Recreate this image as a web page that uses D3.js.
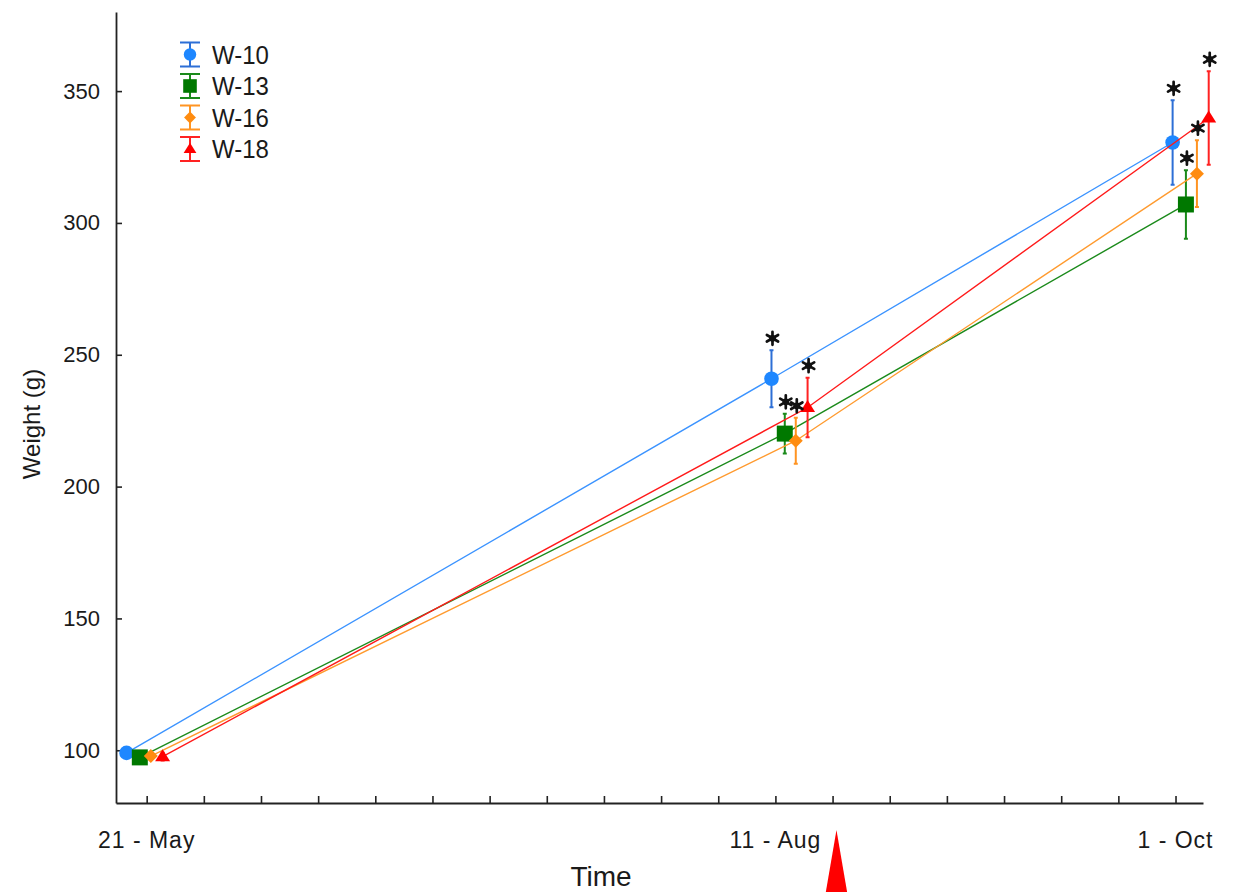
<!DOCTYPE html>
<html><head><meta charset="utf-8">
<script src="https://cdn.jsdelivr.net/npm/d3@7"></script>
<style>
body{margin:0;background:#fff}
svg{display:block}
text{font-family:"Liberation Sans",Arial,sans-serif;fill:#1a1a1a}
</style>
</head><body>
<svg id="chart" width="1241" height="892"></svg>
<script>
// ---------- data ----------
const seriesNames = ["W-10", "W-13", "W-16", "W-18"];
const sampleDay = [0, 82, 133];            // days since 21 May
const w10 = [99.0, 240.9, 330.5];
const w13 = [97.3, 220.1, 307.0];
const w16 = [97.8, 217.4, 318.7];
const w18 = [97.6, 230.0, 339.8];
const w10Err = [1.5, 10.8, 16.0];
const w13Err = [1.5, 7.5, 13.0];
const w16Err = [1.5, 8.7, 12.7];
const w18Err = [1.5, 11.3, 17.7];
const significant = [false, true, true];
const yTicks = [100, 150, 200, 250, 300, 350];
const xTickLabels = ["21 - May", "11 - Aug", "1 - Oct"];
const xLabelTickIndex = [0, 11, 18];
const minorTickCount = 19;
const firstTickDay = 0.3, tickStepDays = 7.267;
const arrowDay = 88;

// ---------- styles ----------
const lineColors = ["#3b93ff", "#1b8a1b", "#ff9a2e", "#ff1a1a"];
const markerColors = ["#1e87ff", "#007800", "#ff8c10", "#ff0000"];
const barColors = ["#2d6fd6", "#1a8a1a", "#ff9422", "#ff2222"];
const shapes = ["circle", "square", "diamond", "triangle"];
const dodge = [-17.8, -4.5, 6.5, 18.3];

const values = [w10, w13, w16, w18];
const errs = [w10Err, w13Err, w16Err, w18Err];

const svg = d3.select("#chart");
const x = d3.scaleLinear().domain([-3.6, 134.6]).range([116, 1203]);
const y = d3.scaleLinear().domain([80, 380]).range([803, 12]);

// axes
const minorTicks = d3.range(minorTickCount).map(i => firstTickDay + i * tickStepDays);
const xAxis = svg.append("g").attr("transform", "translate(0,803)")
  .call(d3.axisBottom(x).tickValues(minorTicks).tickSize(-7).tickSizeOuter(0).tickFormat(""));
const yAxis = svg.append("g").attr("transform", "translate(116,0)")
  .call(d3.axisLeft(y).tickValues(yTicks).tickSize(-6).tickSizeOuter(0).tickPadding(16).tickFormat(d3.format("d")));
[xAxis, yAxis].forEach(g => {
  g.select(".domain").attr("stroke", "#222").attr("stroke-width", 1.8);
  g.selectAll(".tick line").attr("stroke", "#222").attr("stroke-width", 1.6);
});
yAxis.selectAll(".tick text").attr("font-size", 22).attr("fill", "#222")
  .attr("transform", "scale(1,1.06)")
  .style("font-family", '"Liberation Sans", Arial, sans-serif');
yAxis.selectAll(".tick text").attr("transform", null);

svg.append("g").selectAll("text").data(xTickLabels).join("text")
  .attr("x", (d, i) => x(minorTicks[xLabelTickIndex[i]]))
  .attr("y", 848).attr("text-anchor", "middle").attr("font-size", 23)
  .attr("letter-spacing", 1).text(d => d);

svg.append("text").attr("x", 601).attr("y", 886).attr("text-anchor", "middle")
  .attr("font-size", 28).text("Time");
svg.append("text").attr("transform", "translate(40,424) rotate(-90)")
  .attr("text-anchor", "middle").attr("font-size", 24).text("Weight (g)");

// arrow annotation
const ax = x(arrowDay);
svg.append("path").attr("d", `M${ax},830 L${ax - 12},900 L${ax + 12},900 Z`).attr("fill", "#ff0000");

// marker helper
function marker(g, shape, cx, cy, color, s) {
  s = s || 1;
  let p;
  if (shape === "circle") {
    g.append("circle").attr("cx", cx).attr("cy", cy).attr("r", 7.3 * s).attr("fill", color);
    return;
  } else if (shape === "square") {
    const h = 8 * s;
    p = `M${cx - h},${cy - h}H${cx + h}V${cy + h}H${cx - h}Z`;
  } else if (shape === "diamond") {
    const h = 7 * s;
    p = `M${cx},${cy - h}L${cx + h},${cy}L${cx},${cy + h}L${cx - h},${cy}Z`;
  } else {
    const w = 7.5 * s, h = 12 * s;
    p = `M${cx},${cy - h * 0.62}L${cx + w},${cy + h * 0.38}L${cx - w},${cy + h * 0.38}Z`;
  }
  g.append("path").attr("d", p).attr("fill", color);
}

function star(g, cx, cy) {
  const r = 6.5;
  let d = "";
  [90, 30, 150].forEach(a => {
    const t = a * Math.PI / 180;
    d += `M${cx - r * Math.cos(t)},${cy - r * Math.sin(t)}L${cx + r * Math.cos(t)},${cy + r * Math.sin(t)}`;
  });
  g.append("path").attr("d", d).attr("stroke", "#111").attr("stroke-width", 2.7).attr("stroke-linecap", "round");
  g.append("circle").attr("cx", cx).attr("cy", cy).attr("r", 3.4).attr("fill", "#111");
}

// series
values.forEach((vals, si) => {
  const g = svg.append("g");
  const pts = vals.map((v, i) => [x(sampleDay[i]) + dodge[si], y(v)]);
  g.append("path").attr("d", d3.line()(pts)).attr("fill", "none")
    .attr("stroke", lineColors[si]).attr("stroke-width", 1.4);
  vals.forEach((v, i) => {
    const cx = pts[i][0];
    const top = y(v + errs[si][i]), bot = y(v - errs[si][i]);
    g.append("path").attr("d", `M${cx},${top}V${bot}M${cx - 2},${top}H${cx + 2}M${cx - 2},${bot}H${cx + 2}`)
      .attr("stroke", barColors[si]).attr("stroke-width", 2).attr("fill", "none");
  });
  vals.forEach((v, i) => marker(g, shapes[si], pts[i][0], pts[i][1], markerColors[si]));
});
// significance stars on top
const starG = svg.append("g");
values.forEach((vals, si) => {
  vals.forEach((v, i) => {
    if (!significant[i]) return;
    star(starG, x(sampleDay[i]) + dodge[si] + 1, y(v + errs[si][i]) - 12);
  });
});

// legend
const lg = svg.append("g");
seriesNames.forEach((name, si) => {
  const cy = 54.5 + si * 31.5, cx = 190;
  lg.append("path").attr("d", `M${cx},${cy - 12}V${cy + 12}M${cx - 10},${cy - 12}H${cx + 10}M${cx - 10},${cy + 12}H${cx + 10}`)
    .attr("stroke", barColors[si]).attr("stroke-width", 2).attr("fill", "none");
  marker(lg, shapes[si], cx, cy, markerColors[si], 0.85);
  lg.append("text").attr("transform", `translate(212,${cy + 9}) scale(1,1.1)`)
    .attr("font-size", 24).text(name);
});
</script>
</body></html>
